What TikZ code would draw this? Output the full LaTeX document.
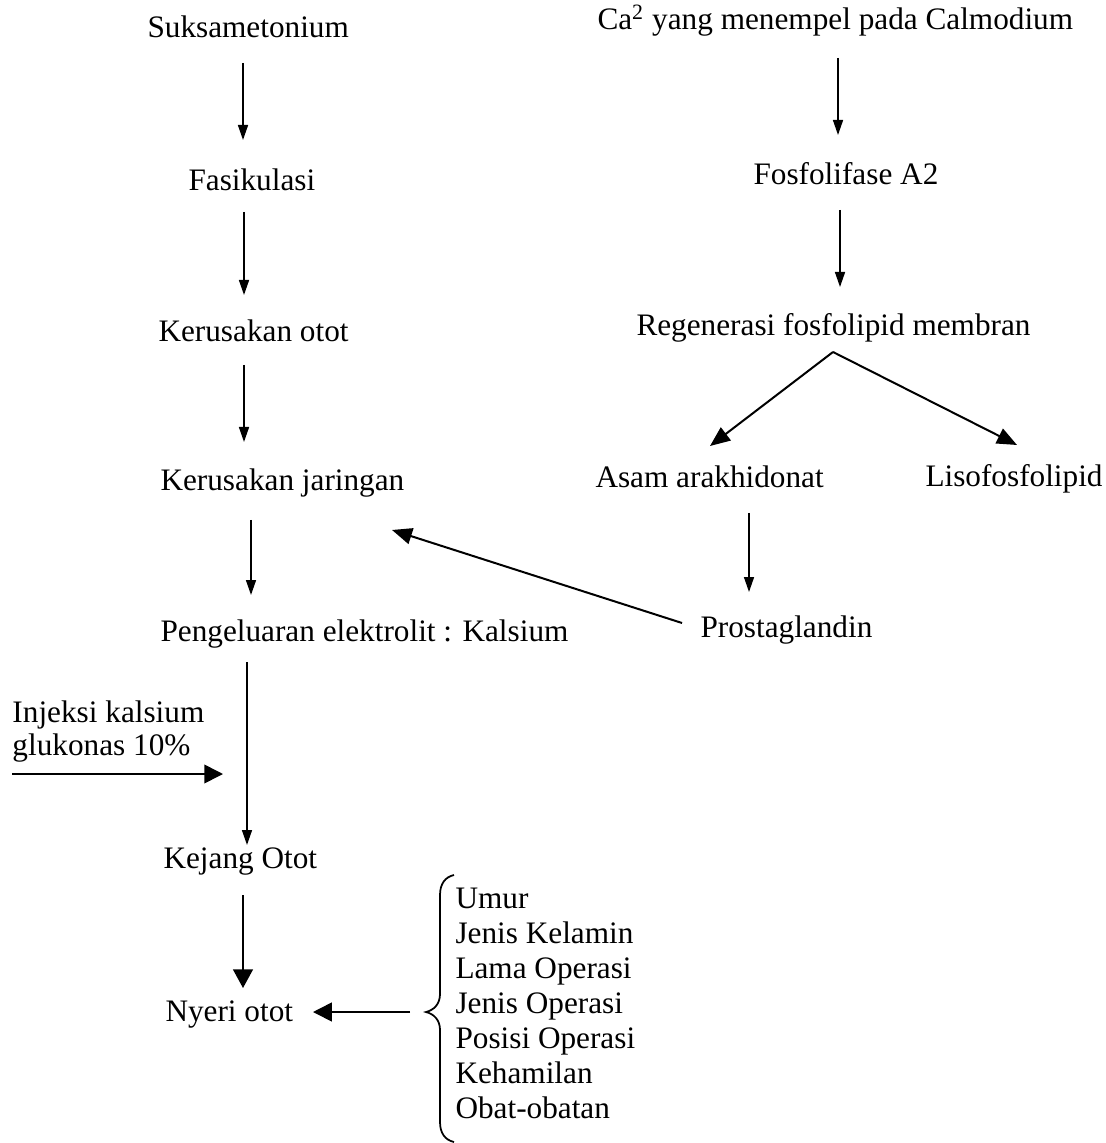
\documentclass[tikz,border=0pt]{standalone}
\usepackage{fontspec}
\setmainfont{Liberation Serif}
\usetikzlibrary{arrows.meta}
\begin{document}
\begin{tikzpicture}[x=0.4pt,y=-0.4pt,
  txt/.style={inner sep=0pt, anchor=base west, font=\fontsize{12.5}{14}\selectfont},
  arr/.style={line width=0.6pt, -{Triangle[length=6pt,width=4pt]}},
  bigarr/.style={line width=0.65pt, -{Triangle[length=7.5pt,width=8pt]}},
  midarr/.style={line width=0.65pt, -{Triangle[length=7.5pt,width=7.5pt]}},
  diagarr/.style={line width=0.8pt, -{Triangle[length=8pt,width=6.5pt]}}]
\useasboundingbox (0,0) rectangle (1105,1143);

% left column
\node[txt] (suks) at (147,38) {Suksametonium};
\node[txt] (fasi) at (188,191) {Fasikulasi};
\node[txt] (kotot) at (158,342) {Kerusakan otot};
\node[txt] (kjar) at (160,491) {Kerusakan jaringan};
\node[txt] (peng) at (160,641) {Pengeluaran elektrolit : Kalsium};
\node[txt] (inj) at (12,722) {Injeksi kalsium};
\node[txt] (glu) at (12,755) {glukonas 10\%};
\node[txt] (kej) at (163,868) {Kejang Otot};
\node[txt] (nyeri) at (165,1021) {Nyeri otot};

% factors
\node[txt] (f1) at (455,908) {Umur};
\node[txt] (f2) at (455,943) {Jenis Kelamin};
\node[txt] (f3) at (455,978) {Lama Operasi};
\node[txt] (f4) at (455,1013) {Jenis Operasi};
\node[txt] (f5) at (455,1048) {Posisi Operasi};
\node[txt] (f6) at (455,1083) {Kehamilan};
\node[txt] (f7) at (455,1118) {Obat-obatan};

% right column
\node[txt] (ca) at (597,30) {Ca\textsuperscript{2} yang menempel pada Calmodium};
\node[txt] (fosf) at (753,185) {Fosfolifase A2};
\node[txt] (regen) at (636,336) {Regenerasi fosfolipid membran};
\node[txt] (asam) at (595,488) {Asam arakhidonat};
\node[txt] (liso) at (925,487) {Lisofosfolipid};
\node[txt] (prost) at (700,637) {Prostaglandin};

% arrow end points
\coordinate (a1s) at (243,63);   \coordinate (a1e) at (243,140);
\coordinate (a2s) at (244,212);  \coordinate (a2e) at (244,295);
\coordinate (a3s) at (244,365);  \coordinate (a3e) at (244,442);
\coordinate (a4s) at (251,520);  \coordinate (a4e) at (251,595);
\coordinate (a5s) at (247,662);  \coordinate (a5e) at (247,845);
\coordinate (a6s) at (12,774);   \coordinate (a6e) at (223,774);
\coordinate (a7s) at (243,895);  \coordinate (a7e) at (243,988);
\coordinate (a8s) at (410,1012); \coordinate (a8e) at (313,1012);
\coordinate (r1s) at (838,58);   \coordinate (r1e) at (838,135);
\coordinate (r2s) at (840,210);  \coordinate (r2e) at (840,287);
\coordinate (rv)  at (833,352);
\coordinate (r3a) at (710,446);  \coordinate (r3b) at (1017,445);
\coordinate (r4s) at (749,513);  \coordinate (r4e) at (749,592);
\coordinate (r5s) at (682,623);  \coordinate (r5e) at (392,530);

\draw[arr] (a1s) -- (a1e);
\draw[arr] (a2s) -- (a2e);
\draw[arr] (a3s) -- (a3e);
\draw[arr] (a4s) -- (a4e);
\draw[arr] (a5s) -- (a5e);
\draw[midarr] (a6s) -- (a6e);
\draw[bigarr] (a7s) -- (a7e);
\draw[midarr] (a8s) -- (a8e);
\draw[arr] (r1s) -- (r1e);
\draw[arr] (r2s) -- (r2e);
\draw[diagarr] (rv) -- (r3a);
\draw[diagarr] (rv) -- (r3b);
\draw[arr] (r4s) -- (r4e);
\draw[diagarr] (r5s) -- (r5e);

% brace
\draw[line width=0.7pt] (454,875) .. controls (445,877) and (440,884) .. (440,895)
  -- (440,994) .. controls (440,1004) and (434,1010) .. (426,1012)
  .. controls (434,1014) and (440,1020) .. (440,1030)
  -- (440,1122) .. controls (440,1133) and (445,1140) .. (454,1142);
\end{tikzpicture}
\end{document}
